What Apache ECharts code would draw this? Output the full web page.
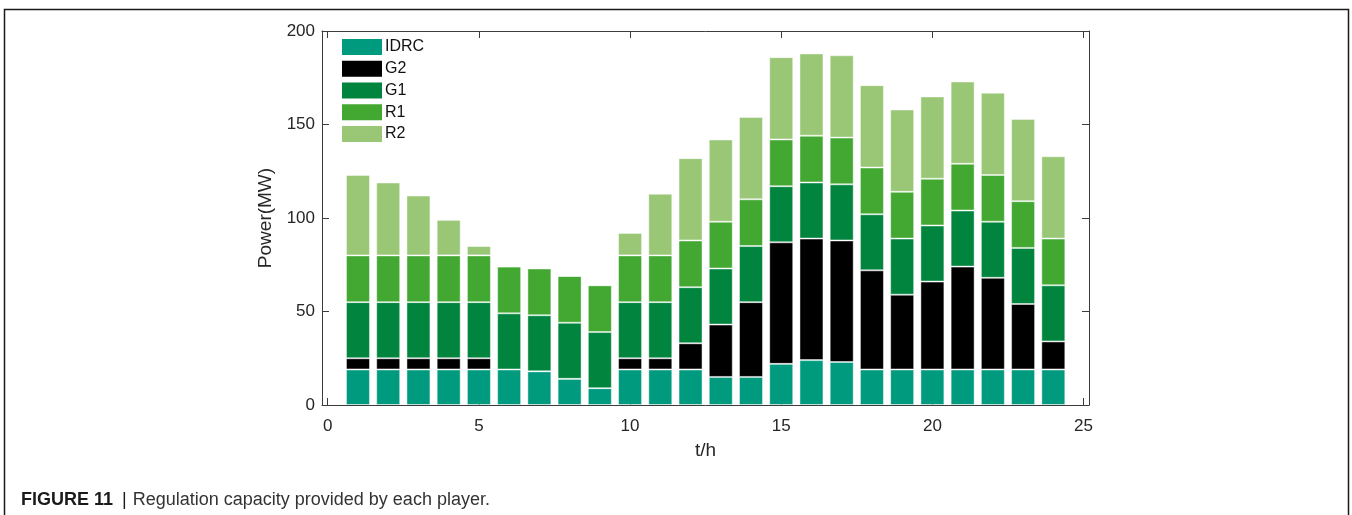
<!DOCTYPE html>
<html>
<head>
<meta charset="utf-8">
<title>Regulation capacity provided by each player</title>
<script src="https://cdn.jsdelivr.net/npm/echarts@6/dist/echarts.min.js"></script>
<style>
  html, body { margin: 0; padding: 0; background: #ffffff; }
  #chart { width: 1352px; height: 515px; }
</style>
</head>
<body>
<div id="chart"></div>
<script>
// Hour of day for each stacked bar
const hours = [1, 2, 3, 4, 5, 6, 7, 8, 9, 10, 11, 12, 13, 14, 15, 16, 17, 18, 19, 20, 21, 22, 23, 24];

// Regulation capacity (MW) contributed by each player, per hour
const idrc = [19, 19, 19, 19, 19, 19, 18, 14, 9, 19, 19, 19, 15, 15, 22, 24, 23, 19, 19, 19, 19, 19, 19, 19];
const g2   = [6, 6, 6, 6, 6, 0, 0, 0, 0, 6, 6, 14, 28, 40, 65, 65, 65, 53, 40, 47, 55, 49, 35, 15];
const g1   = [30, 30, 30, 30, 30, 30, 30, 30, 30, 30, 30, 30, 30, 30, 30, 30, 30, 30, 30, 30, 30, 30, 30, 30];
const r1   = [25, 25, 25, 25, 25, 25, 25, 25, 25, 25, 25, 25, 25, 25, 25, 25, 25, 25, 25, 25, 25, 25, 25, 25];
const r2   = [43, 39, 32, 19, 5, 0, 0, 0, 0, 12, 33, 44, 44, 44, 44, 44, 44, 44, 44, 44, 44, 44, 44, 44];

// Axis tick labels
const xTicks = [0, 5, 10, 15, 20, 25];
const yTicks = [0, 50, 100, 150, 200];

const FONT = '"Liberation Sans", Arial, Helvetica, sans-serif';
const AXIS_COLOR = '#3c3c3c';
const TEXT_COLOR = '#262626';

const players = [
  { name: 'IDRC', values: idrc, color: '#009b7e' },
  { name: 'G2',   values: g2,   color: '#000000' },
  { name: 'G1',   values: g1,   color: '#00843e' },
  { name: 'R1',   values: r1,   color: '#42a832' },
  { name: 'R2',   values: r2,   color: '#99c776' }
];

const chart = echarts.init(document.getElementById('chart'), null, { renderer: 'canvas' });

function xAxisDef(position, showLabels) {
  return {
    type: 'value',
    position: position,
    min: -0.19,
    max: 25.18,
    splitLine: { show: false },
    axisLine: { show: true, onZero: false, lineStyle: { color: AXIS_COLOR, width: 1 } },
    axisTick: { show: true, inside: true, length: 7, customValues: xTicks, lineStyle: { color: AXIS_COLOR } },
    axisLabel: {
      show: showLabels, customValues: xTicks, margin: 13,
      color: TEXT_COLOR, fontFamily: FONT, fontSize: 17
    }
  };
}

function yAxisDef(position, showLabels) {
  return {
    type: 'value',
    position: position,
    min: 0,
    max: 200,
    interval: 50,
    splitLine: { show: false },
    axisLine: { show: true, onZero: false, lineStyle: { color: AXIS_COLOR, width: 1 } },
    axisTick: { show: true, inside: true, length: 7, lineStyle: { color: AXIS_COLOR } },
    axisLabel: {
      show: showLabels, margin: 7,
      color: TEXT_COLOR, fontFamily: FONT, fontSize: 17,
      formatter: v => (yTicks.indexOf(v) >= 0 ? String(v) : '')
    }
  };
}

const xBottom = xAxisDef('bottom', true);
xBottom.name = 't/h';
xBottom.nameLocation = 'middle';
xBottom.nameGap = 36;
xBottom.nameTextStyle = { color: TEXT_COLOR, fontFamily: FONT, fontSize: 19 };

const yLeft = yAxisDef('left', true);
yLeft.name = 'Power(MW)';
yLeft.nameLocation = 'middle';
yLeft.nameGap = 44;
yLeft.nameTextStyle = { color: TEXT_COLOR, fontFamily: FONT, fontSize: 19 };

const option = {
  backgroundColor: '#ffffff',
  animation: false,
  textStyle: { fontFamily: FONT },
  grid: { left: 322, right: 263, top: 31, bottom: 110, containLabel: false },
  title: {
    left: 21,
    top: 491,
    padding: 0,
    text: '{b|FIGURE 11}{s||}{n|Regulation capacity provided by each player.}',
    textStyle: {
      fontWeight: 'normal',
      rich: {
        b: { fontFamily: FONT, fontSize: 18, fontWeight: 'bold', color: '#1a1a1a' },
        s: { fontFamily: FONT, fontSize: 18, fontWeight: 'normal', color: '#1a1a1a', padding: [0, 6, 0, 9] },
        n: { fontFamily: FONT, fontSize: 18, fontWeight: 'normal', color: '#333333' }
      }
    }
  },
  graphic: [{
    type: 'rect',
    silent: true,
    shape: { x: 4.5, y: 9.5, width: 1344, height: 520 },
    style: { fill: 'none', stroke: '#1a1a1a', lineWidth: 1.5 }
  }],
  legend: {
    orient: 'vertical',
    left: 342,
    top: 39,
    padding: 0,
    itemWidth: 40,
    itemHeight: 16,
    itemGap: 5.75,
    icon: 'rect',
    itemStyle: { borderWidth: 0 },
    textStyle: { color: '#111111', fontFamily: FONT, fontSize: 16, padding: [0, 0, 0, -2] },
    data: players.map(p => p.name)
  },
  xAxis: [xBottom, xAxisDef('top', false)],
  yAxis: [yLeft, yAxisDef('right', false)],
  // Each point is [power, hour]: the power column comes first so the stack
  // accumulates along the vertical value axis.
  series: players.map(p => ({
    name: p.name,
    type: 'bar',
    stack: 'capacity',
    xAxisIndex: 0,
    yAxisIndex: 0,
    barWidth: 24,
    encode: { x: 1, y: 0 },
    itemStyle: { color: p.color, borderColor: 'rgba(255,255,255,0.45)', borderWidth: 1 },
    emphasis: { disabled: true },
    data: hours.map((h, i) => [p.values[i], h])
  }))
};

chart.setOption(option);
</script>
</body>
</html>
